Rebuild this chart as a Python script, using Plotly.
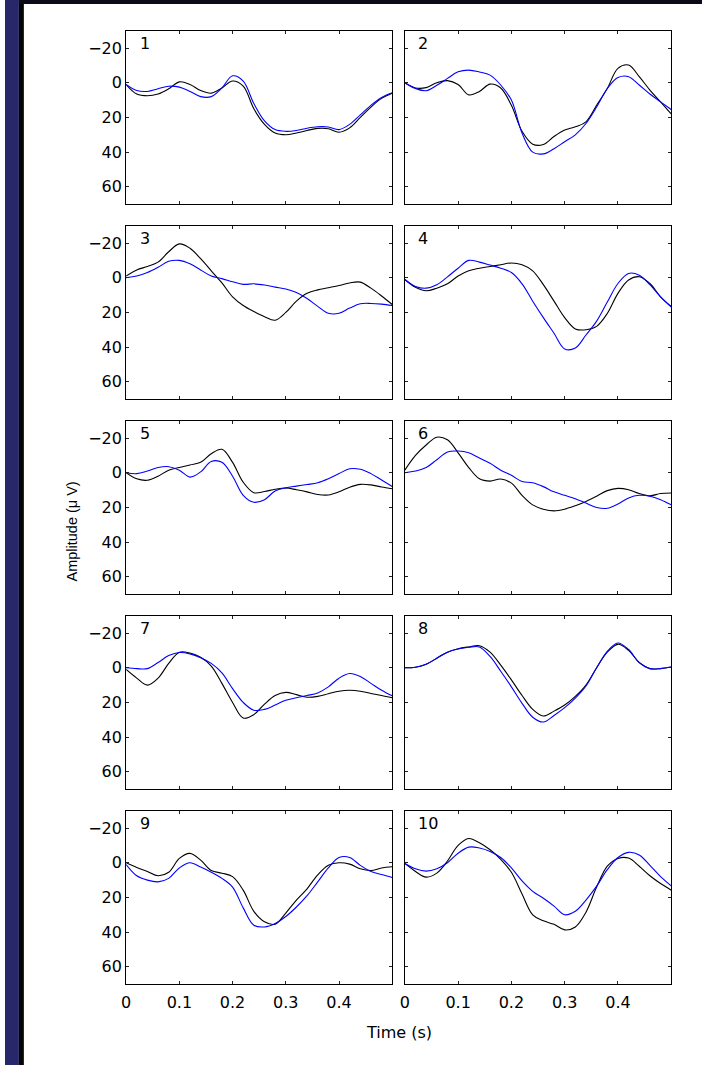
import plotly.graph_objects as go

# ---------------- data ----------------
t = [0.00, 0.02, 0.04, 0.06, 0.08, 0.10, 0.12, 0.14, 0.16, 0.18, 0.20, 0.22, 0.24,
     0.26, 0.28, 0.30, 0.32, 0.34, 0.36, 0.38, 0.40, 0.42, 0.44, 0.46, 0.48, 0.50]

black_1 = [1, 6.5, 7.5, 6.5, 3.5, -0.5, 1, 4.5, 6, 3, -1, 2, 15, 24, 29, 30, 29, 27.5, 26.3, 26.5, 28.5, 26, 20, 14, 9, 6]
blue_1 = [1, 4.5, 5, 3.5, 2, 2.5, 5, 8, 8, 3, -4, -1, 12, 22, 27, 28, 27.5, 26.2, 25.4, 25.5, 27, 24, 18.5, 13, 8.5, 5.8]

black_2 = [0, 3, 2.8, 0, -1.2, 1, 7, 5, 0.8, 3, 13, 28, 35.4, 35.6, 31, 27.3, 25.4, 22.5, 13, 3.3, -8.3, -10.2, -3.5, 4.2, 11, 18]
blue_2 = [0, 3.3, 4.6, 1.5, -2.5, -6.3, -7.3, -6.2, -4.4, 1.3, 10, 29, 40, 41, 38, 34, 30, 23.5, 14, 3.3, -3, -3.5, 1.3, 6.5, 11, 15.4]

black_3 = [-1, -4.5, -6.5, -9, -15, -19.5, -17, -11, -4, 3, 11, 16, 19.5, 22.5, 24.5, 20, 13.5, 9, 7, 5.8, 4.5, 3, 2.5, 6, 10.5, 15.4]
blue_3 = [0, -1, -3, -6, -9.5, -10, -8, -4.5, -1, 0.5, 2.3, 3.8, 3.5, 4.2, 5.4, 6.5, 8.5, 12, 16.5, 20.5, 20.5, 17.5, 15, 14.8, 15.2, 16]

black_4 = [1, 5.5, 7.5, 6, 3.5, -1, -4, -5.5, -6.5, -7.5, -8.5, -7.5, -4, 4, 13.5, 23, 29.5, 30, 28, 20.6, 9, 1.3, -0.6, 3.3, 11, 16.7]
blue_4 = [1, 5, 6, 4, -0.5, -5.5, -10, -9, -7.3, -5.5, -3, 3.5, 13.5, 23, 32, 41, 40.5, 33, 25, 14, 3.3, -2.5, -1.5, 4, 11, 16.7]

black_5 = [0, 3.5, 4.3, 2, -1.5, -3, -4.5, -6, -11, -13.5, -6, 5.5, 11.5, 10.8, 9.5, 8.8, 9.8, 11, 12.5, 12.8, 11, 8.3, 6.7, 7, 8.2, 9.2]
blue_5 = [0, 0.5, -1, -3, -3.5, -1.5, 2.5, -0.5, -6.5, -6, 2, 13, 17, 15.5, 10.5, 8.7, 7.7, 6.8, 5.8, 3.5, 0.5, -2.3, -2, 0.5, 4.2, 7.9]

black_6 = [-1.5, -10, -16, -20.5, -19, -11.5, -3, 3.5, 4.8, 3.6, 6, 13, 18.5, 21, 22, 21, 19, 16.5, 13.5, 10.3, 9, 9.8, 12, 13.3, 12, 11.7]
blue_6 = [0, -1, -3, -7.5, -12, -12.5, -11.5, -8.5, -5.5, -1.5, 1.5, 5, 5.8, 8, 11, 13, 15, 17.5, 20, 20.5, 18, 14.5, 13, 13.5, 15.5, 18.5]

black_7 = [1, 6, 10, 6, -2.5, -9, -8.5, -6, -1, 9, 20, 29, 27, 21, 16, 14.2, 15.5, 17, 16.5, 15, 13.5, 13, 13.5, 14.8, 16, 17.3]
blue_7 = [0, 0.5, 0.5, -3, -7, -8.8, -8, -5.8, -2.5, 3, 12, 20, 24.5, 24, 21.5, 18.7, 17.3, 16, 14.5, 11, 6, 3.3, 5, 9, 13, 16.2]

black_8 = [0, -0.3, -2, -5.5, -9, -11, -12, -12.7, -9, -1.5, 7, 16, 24, 27.8, 25, 21.5, 16.5, 10, 0, -9, -13.5, -10, -3, 0.5, 0.5, -0.4]
blue_8 = [0, -0.3, -2, -5.5, -9, -10.8, -11.8, -12, -6.5, 2, 11, 20.5, 28.5, 31.3, 27.5, 23, 17.5, 10.5, 0, -9.5, -14.3, -10.5, -3, 0.5, 0.5, -0.4]

black_9 = [0, 2.7, 5, 7.5, 5.5, -2.5, -5.4, -1.5, 4.5, 6, 8, 15.8, 28, 34, 35.4, 29, 21.5, 15, 7, 1.5, 0, 0.8, 3.5, 4.5, 3, 2.3]
blue_9 = [1, 7.5, 10, 11, 9, 3, 0, 2.5, 5.5, 9, 14, 26, 36, 37, 35, 31, 25.5, 19, 11, 3, -3, -3, 1.5, 5, 6.8, 8.5]

black_10 = [0.4, 5, 8.3, 6, -1, -10, -14, -11.5, -7.5, -2, 5.5, 18, 30, 33.5, 35.5, 38.7, 37, 28.5, 14, 2, -2.5, -2.7, 2, 7.5, 12, 15.8]
blue_10 = [0.4, 3.5, 4.8, 3.5, 0, -5.5, -9, -8.5, -6.5, -3, 3, 10.5, 16.5, 20.5, 25, 30, 28, 21.5, 13.5, 4, -3, -6, -4.5, 1.5, 8, 13.3]

black_series = [black_1, black_2, black_3, black_4, black_5, black_6, black_7, black_8, black_9, black_10]
blue_series = [blue_1, blue_2, blue_3, blue_4, blue_5, blue_6, blue_7, blue_8, blue_9, blue_10]
panel_labels = ["1", "2", "3", "4", "5", "6", "7", "8", "9", "10"]

x_tickvals = [0, 0.1, 0.2, 0.3, 0.4]
x_ticktext = ["0", "0.1", "0.2", "0.3", "0.4"]
y_tickvals = [-20, 0, 20, 40, 60]
y_ticktext = ["\u221220", "0", "20", "40", "60"]
x_title = "Time (s)"
y_title = "Amplitude (\u03bc V)"

# ---------------- layout geometry (pixels) ----------------
W, H = 702, 1065
col_left = [122, 402.7]
col_right = [390, 671]
row_top0 = 30.7
row_step = 195
panel_h = 173.5
FONT = "DejaVu Sans, Arial, Helvetica, sans-serif"
FONT_Y = "Liberation Sans, Arial, Helvetica, sans-serif"
FS = 16

fig = go.Figure()
layout = dict(
    width=W, height=H,
    margin=dict(l=0, r=0, t=0, b=0),
    paper_bgcolor="white", plot_bgcolor="white",
    showlegend=False,
    font=dict(family=FONT, size=FS, color="black"),
)

annotations = []
for i in range(10):
    r, c = divmod(i, 2)
    n = i + 1
    xa = "xaxis" if n == 1 else f"xaxis{n}"
    ya = "yaxis" if n == 1 else f"yaxis{n}"
    xr = "x" if n == 1 else f"x{n}"
    yr = "y" if n == 1 else f"y{n}"
    top = row_top0 + r * row_step
    bot = top + panel_h
    layout[xa] = dict(
        domain=[col_left[c] / W, col_right[c] / W],
        anchor=yr, range=[0, 0.5],
        tickvals=x_tickvals, ticktext=x_ticktext,
        showticklabels=(r == 4), ticklabelstandoff=4,
        ticks="inside", ticklen=3, tickcolor="#222", tickwidth=1,
        showline=True, linecolor="black", linewidth=1, mirror="allticks",
        showgrid=False, zeroline=False,
        tickfont=dict(family=FONT, size=FS, color="black"),
    )
    layout[ya] = dict(
        domain=[1 - bot / H, 1 - top / H],
        anchor=xr, range=[70, -30],
        tickvals=y_tickvals, ticktext=y_ticktext,
        showticklabels=(c == 0),
        ticks="inside", ticklen=3, tickcolor="#222", tickwidth=1,
        showline=True, linecolor="black", linewidth=1, mirror="allticks",
        showgrid=False, zeroline=False,
        tickfont=dict(family=FONT, size=FS, color="black"),
    )
    fig.add_trace(go.Scatter(x=t, y=black_series[i], mode="lines", xaxis=xr, yaxis=yr,
                             line=dict(color="black", width=1.1, shape="spline", smoothing=1.0)))
    fig.add_trace(go.Scatter(x=t, y=blue_series[i], mode="lines", xaxis=xr, yaxis=yr,
                             line=dict(color="#0000ff", width=1.1, shape="spline", smoothing=1.0)))
    annotations.append(dict(
        text=panel_labels[i], xref=f"{xr} domain", yref=f"{yr} domain",
        x=11.5 / (col_right[c] - col_left[c]), y=1 - 12.5 / panel_h,
        xanchor="left", yanchor="middle", showarrow=False,
        font=dict(family=FONT, size=FS, color="black"),
    ))

annotations.append(dict(text=x_title, xref="paper", yref="paper",
                        x=396.5 / W, y=1 - 1032 / H, xanchor="center", yanchor="middle",
                        showarrow=False, font=dict(family=FONT, size=FS, color="black")))
annotations.append(dict(text=y_title, xref="paper", yref="paper", textangle=-90,
                        x=67 / W, y=1 - 532 / H, xanchor="center", yanchor="middle",
                        showarrow=False, font=dict(family=FONT_Y, size=14.5, color="black")))
layout["annotations"] = annotations

layout["shapes"] = [
    dict(type="rect", xref="paper", yref="paper", x0=0, x1=14 / W, y0=0, y1=1,
         fillcolor="#28276a", line=dict(width=0), layer="above"),
    dict(type="rect", xref="paper", yref="paper", x0=14 / W, x1=19 / W, y0=0, y1=1,
         fillcolor="#050508", line=dict(width=0), layer="above"),
    dict(type="rect", xref="paper", yref="paper", x0=14 / W, x1=1, y0=1 - 4 / H, y1=1,
         fillcolor="#0a0a18", line=dict(width=0), layer="above"),
]

fig.update_layout(**layout)
fig.write_html("out.html")
